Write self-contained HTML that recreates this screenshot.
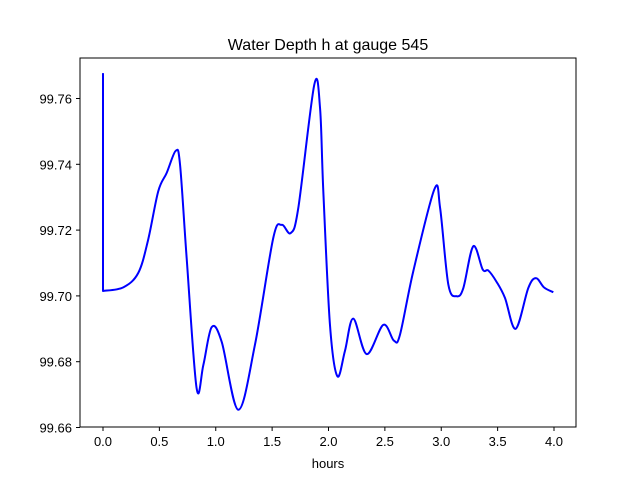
<!DOCTYPE html>
<html><head><meta charset="utf-8"><style>
body{margin:0;background:#fff}
svg text{font-family:"Liberation Sans","DejaVu Sans",sans-serif;fill:#000}
</style></head><body>
<svg width="640" height="480" viewBox="0 0 640 480">
<rect x="0" y="0" width="640" height="480" fill="#fff"/>
<text x="328" y="50" font-size="16" text-anchor="middle">Water Depth h at gauge 545</text>
<g id="xt"></g>
<g id="yt"></g>
<path id="line" fill="none" stroke="#0000ff" stroke-width="2" stroke-linejoin="round"/>
<rect x="80" y="58" width="496" height="369" fill="none" stroke="#000" stroke-width="1"/>
<text x="328" y="468" font-size="13" text-anchor="middle">hours</text>
</svg>
<script>
const hours=[0,0,0.18,0.313,0.40,0.49,0.565,0.645,0.683,0.742,0.83,0.89,0.964,1.053,1.20,1.348,1.51,1.585,1.665,1.732,1.874,1.925,1.954,2.013,2.078,2.146,2.22,2.339,2.486,2.58,2.634,2.752,2.94,2.99,3.063,3.137,3.196,3.284,3.368,3.418,3.492,3.565,3.66,3.772,3.84,3.911,3.994];
const depth=[99.7677,99.7015,99.7026,99.707,99.717,99.7318,99.7374,99.7441,99.740,99.7115,99.672,99.679,99.6905,99.686,99.6654,99.6852,99.7176,99.7216,99.7191,99.7267,99.7642,99.7571,99.7318,99.6912,99.6756,99.6833,99.6931,99.6823,99.6912,99.6864,99.6882,99.7075,99.7325,99.7267,99.7034,99.6999,99.7024,99.7151,99.708,99.7077,99.7042,99.6994,99.69,99.7024,99.7054,99.7026,99.7011];
const xTicks=[0,0.5,1,1.5,2,2.5,3,3.5,4];
const xTickLabels=["0.0","0.5","1.0","1.5","2.0","2.5","3.0","3.5","4.0"];
const yTicks=[99.66,99.68,99.70,99.72,99.74,99.76];
const yTickLabels=["99.66","99.68","99.70","99.72","99.74","99.76"];
const NS="http://www.w3.org/2000/svg";
function xs(t){return 103+t*112.75;}
function ys(v){return 427.5-(v-99.66)*3290;}
const xt=document.getElementById('xt'),yt=document.getElementById('yt');
xTicks.forEach((t,i)=>{
 const l=document.createElementNS(NS,'line');
 
 
 l.setAttribute('x1',xs(t));l.setAttribute('x2',xs(t));l.setAttribute('y1',427);l.setAttribute('y2',431);l.setAttribute('stroke','#000');
 xt.appendChild(l);
 const tx=document.createElementNS(NS,'text');
 
 
 tx.setAttribute('x',xs(t));tx.setAttribute('y',446);tx.setAttribute('font-size','13');tx.setAttribute('text-anchor','middle');
 tx.textContent=xTickLabels[i];xt.appendChild(tx);
});
yTicks.forEach((v,i)=>{
 const l=document.createElementNS(NS,'line');
 
 
 l.setAttribute('x1',76);l.setAttribute('x2',80);l.setAttribute('y1',ys(v));l.setAttribute('y2',ys(v));l.setAttribute('stroke','#000');
 yt.appendChild(l);
 const tx=document.createElementNS(NS,'text');
 
 
 tx.setAttribute('x',72);tx.setAttribute('y',ys(v)+5);tx.setAttribute('font-size','13');tx.setAttribute('text-anchor','end');
 tx.textContent=yTickLabels[i];yt.appendChild(tx);
});
const P=hours.map((t,i)=>[xs(t),ys(depth[i])]);
let d='M'+P[0][0]+' '+P[0][1]+' L'+P[1][0]+' '+P[1][1];
for(let i=1;i<P.length-1;i++){
 const p0=P[Math.max(i-1,1)],p1=P[i],p2=P[i+1],p3=P[Math.min(i+2,P.length-1)];
 const c1=[p1[0]+(p2[0]-p0[0])/6,p1[1]+(p2[1]-p0[1])/6];
 const c2=[p2[0]-(p3[0]-p1[0])/6,p2[1]-(p3[1]-p1[1])/6];
 d+=' C'+c1[0]+' '+c1[1]+' '+c2[0]+' '+c2[1]+' '+p2[0]+' '+p2[1];
}
document.getElementById('line').setAttribute('d',d);
</script>
</body></html>
